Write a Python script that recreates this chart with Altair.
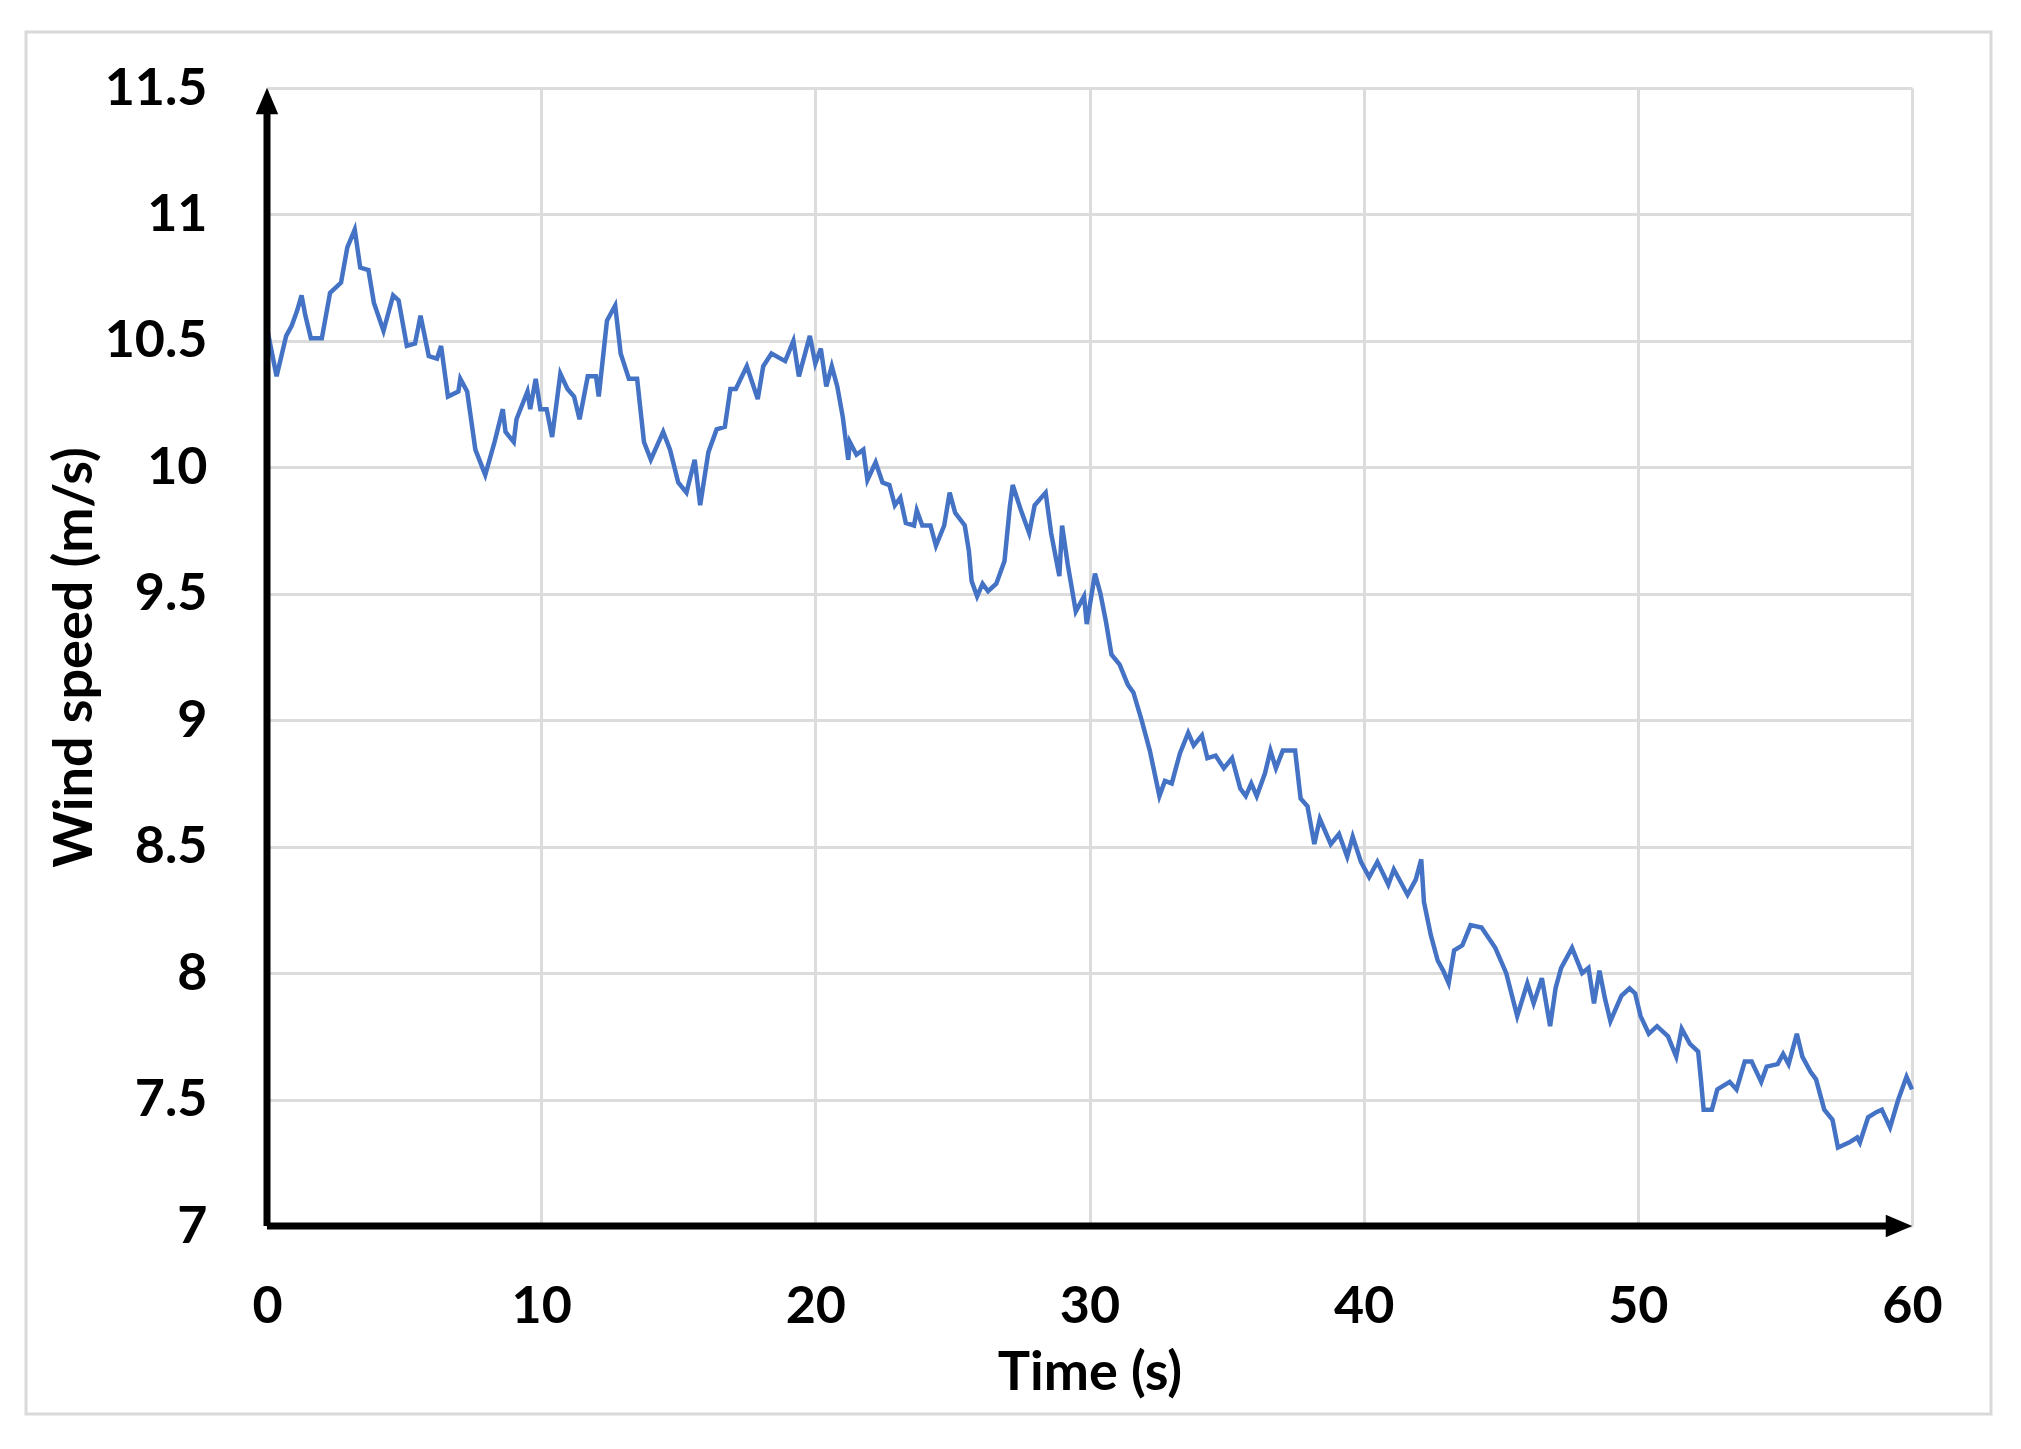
import altair as alt
import pandas as pd

# ---- data ----
time_s = [
    0.0, 0.35, 0.7, 0.9, 1.1, 1.26, 1.4, 1.6, 2.0, 2.3, 2.7, 2.93, 3.2, 3.4, 3.7, 3.9,
    4.25, 4.6, 4.8, 5.1, 5.4, 5.6, 5.9, 6.2, 6.35, 6.5, 6.6, 6.98, 7.05, 7.3, 7.6, 7.96,
    8.3, 8.6, 8.7, 9.0, 9.1, 9.5, 9.6, 9.8, 9.97, 10.2, 10.4, 10.7, 10.96, 11.2, 11.4,
    11.7, 12.0, 12.1, 12.4, 12.7, 12.9, 13.2, 13.5, 13.75, 14.0, 14.45, 14.7, 15.0, 15.3,
    15.6, 15.8, 16.1, 16.4, 16.7, 16.9, 17.1, 17.5, 17.9, 18.1, 18.4, 18.9, 19.2, 19.4,
    19.8, 20.0, 20.2, 20.4, 20.6, 20.8, 21.0, 21.2,
    21.26, 21.5, 21.75, 21.9, 22.2, 22.45, 22.7, 22.9, 23.1, 23.3, 23.6, 23.7, 23.9, 24.2,
    24.4, 24.7, 24.9, 25.1, 25.45, 25.6, 25.7, 25.9, 26.1, 26.3, 26.6, 26.9, 27.1, 27.2,
    27.5, 27.8, 28.0, 28.4, 28.6, 28.9, 29.0, 29.2, 29.5, 29.8, 29.9, 30.2, 30.4, 30.6, 30.8,
    31.1, 31.4, 31.6, 31.9, 32.2, 32.55, 32.75, 33.0, 33.3, 33.6, 33.8, 34.1, 34.3, 34.6,
    34.9, 35.2, 35.5, 35.7, 35.9, 36.1, 36.4, 36.6, 36.8, 37.05, 37.5, 37.7, 37.95, 38.2,
    38.4, 38.8, 39.1, 39.4, 39.6, 39.9, 40.2, 40.5, 40.9, 41.1, 41.3, 41.6, 41.9, 42.1,
    42.2, 42.45, 42.7, 42.9, 43.1,
    43.3, 43.6, 43.9, 44.3, 44.8, 45.2, 45.6, 45.97, 46.2, 46.5, 46.8, 47.0, 47.2, 47.6,
    47.97, 48.2, 48.4, 48.6, 48.8, 49.0, 49.4, 49.7, 49.9, 50.1, 50.4, 50.7, 51.1, 51.4,
    51.6, 51.9, 52.2, 52.3, 52.4, 52.7, 52.9, 53.35, 53.6, 53.9, 54.15, 54.5, 54.7, 55.1,
    55.3, 55.5, 55.8, 56.0, 56.3, 56.5, 56.8, 57.1, 57.3, 57.7, 58.0, 58.1, 58.4, 58.7,
    58.9, 59.2, 59.5, 59.8, 60.0,
]
wind_speed = [
    10.55, 10.36, 10.52, 10.56, 10.62, 10.68, 10.60, 10.51, 10.51, 10.69, 10.73, 10.87, 10.94, 10.79, 10.78, 10.65,
    10.54, 10.68, 10.66, 10.48, 10.49, 10.60, 10.44, 10.43, 10.48, 10.36, 10.28, 10.30, 10.35, 10.30, 10.07, 9.97,
    10.10, 10.23, 10.14, 10.10, 10.19, 10.30, 10.23, 10.35, 10.23, 10.23, 10.12, 10.37, 10.31, 10.28, 10.19,
    10.36, 10.36, 10.28, 10.58, 10.64, 10.45, 10.35, 10.35, 10.10, 10.03, 10.14, 10.07, 9.94, 9.90,
    10.03, 9.85, 10.06, 10.15, 10.16, 10.31, 10.31, 10.40, 10.27, 10.40, 10.45, 10.42, 10.50, 10.36,
    10.52, 10.41, 10.47, 10.32, 10.40, 10.32, 10.20, 10.03,
    10.10, 10.05, 10.07, 9.95, 10.02, 9.94, 9.93, 9.85, 9.88, 9.78, 9.77, 9.83, 9.77, 9.77,
    9.69, 9.77, 9.90, 9.82, 9.77, 9.67, 9.55, 9.49, 9.54, 9.51, 9.54, 9.63, 9.85, 9.93,
    9.83, 9.74, 9.85, 9.90, 9.74, 9.57, 9.77, 9.62, 9.43, 9.49, 9.38, 9.58, 9.50, 9.39, 9.26,
    9.22, 9.14, 9.11, 9.00, 8.88, 8.70, 8.76, 8.75, 8.87, 8.95, 8.90, 8.94, 8.85, 8.86,
    8.81, 8.85, 8.73, 8.70, 8.75, 8.70, 8.79, 8.88, 8.81, 8.88, 8.88, 8.69, 8.66, 8.51,
    8.61, 8.51, 8.55, 8.46, 8.54, 8.44, 8.38, 8.44, 8.35, 8.41, 8.37, 8.31, 8.37, 8.45,
    8.28, 8.15, 8.05, 8.01, 7.96,
    8.09, 8.11, 8.19, 8.18, 8.10, 8.00, 7.83, 7.96, 7.88, 7.98, 7.79, 7.94, 8.02, 8.10,
    8.00, 8.02, 7.88, 8.01, 7.90, 7.81, 7.91, 7.94, 7.92, 7.83, 7.76, 7.79, 7.75, 7.67,
    7.78, 7.72, 7.69, 7.58, 7.46, 7.46, 7.54, 7.57, 7.54, 7.65, 7.65, 7.57, 7.63, 7.64,
    7.68, 7.64, 7.76, 7.67, 7.61, 7.58, 7.46, 7.42, 7.31, 7.33, 7.35, 7.33, 7.43, 7.45,
    7.46, 7.39, 7.50, 7.59, 7.54,
]
x_ticks = [0, 10, 20, 30, 40, 50, 60]
y_ticks = [7, 7.5, 8, 8.5, 9, 9.5, 10, 10.5, 11, 11.5]
x_domain = [0, 60]
y_domain = [7, 11.5]

df = pd.DataFrame({"t": time_s, "v": wind_speed})
one = alt.Data(values=[{}])

PW, PH = 1645, 1138
FONT = "Lato"

xs = alt.Scale(domain=x_domain, nice=False, zero=False)
ys = alt.Scale(domain=y_domain, nice=False, zero=False)

line = alt.Chart(df).mark_line(color="#4472C4", strokeWidth=4.5, interpolate="linear",
                               strokeJoin="miter").encode(
    x=alt.X("t:Q", scale=xs, title="Time (s)",
            axis=alt.Axis(values=x_ticks, format="d", labelFontSize=52, labelPadding=55,
                          labelFlush=False, labelOverlap=False, grid=True,
                          titleFontSize=54, titleY=147, titleBaseline="middle")),
    y=alt.Y("v:Q", scale=ys, title="Wind speed (m/s)",
            axis=alt.Axis(values=y_ticks, format=".1~f", labelFontSize=52, labelPadding=60,
                          labelFlush=False, labelOverlap=False, grid=True,
                          titleFontSize=54, titleX=-192, titleBaseline="middle")),
)

frame = alt.Chart(one).mark_rect(fillOpacity=0, stroke="#d9d9d9", strokeWidth=3).encode(
    x=alt.value(-241), x2=alt.value(1724), y=alt.value(-56), y2=alt.value(1326)
)

y_arrow = alt.Chart(one).mark_rule(color="black", strokeWidth=7, y2Offset=18).encode(
    x=alt.datum(0), y=alt.datum(7), y2=alt.datum(11.5)
)
x_arrow = alt.Chart(one).mark_rule(color="black", strokeWidth=7, x2Offset=-18).encode(
    x=alt.datum(0), x2=alt.datum(60), y=alt.datum(7)
)
y_head = alt.Chart(one).mark_point(shape="M-0.85,1L0,-1L0.85,1Z", filled=True, color="black",
                                   opacity=1, size=700, yOffset=13).encode(
    x=alt.datum(0), y=alt.datum(11.5)
)
x_head = alt.Chart(one).mark_point(shape="M-1,-0.85L1,0L-1,0.85Z", filled=True, color="black",
                                   opacity=1, size=700, xOffset=-13).encode(
    x=alt.datum(60), y=alt.datum(7)
)

chart = alt.layer(frame, line, y_arrow, x_arrow, y_head, x_head).properties(
    width=PW, height=PH,
    autosize=alt.AutoSizeParams(type="none"),
    padding={"left": 259, "top": 80, "right": 90, "bottom": 200},
    background="white",
).configure_view(strokeWidth=0).configure_axis(
    labelFont=FONT, titleFont=FONT, labelFontWeight="bold", titleFontWeight="bold",
    labelColor="#000000", titleColor="#000000", gridColor="#dcdcdc", gridWidth=3,
    domain=False, ticks=False,
)

chart.save("out.html", embed_options={"renderer": "svg", "actions": False})
